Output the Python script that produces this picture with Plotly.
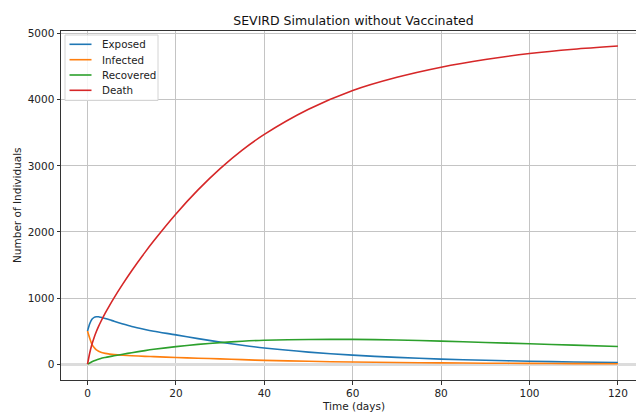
import plotly.graph_objects as go

# time points (days)
t = [0, 0.5, 1, 1.5, 2, 2.5, 3, 4, 5, 6, 8, 10, 13, 15, 20, 25, 30, 35, 40,
     50, 60, 70, 80, 90, 100, 110, 120]

exposed = [500, 610, 680, 708, 716, 716, 708, 691, 671, 649, 607, 569, 524, 498,
           443, 386, 333, 285, 244, 182, 136, 102, 76, 58, 44, 33, 24]
infected = [500, 390, 300, 250, 215, 195, 180, 163, 152, 144, 134, 127, 118, 113,
            101, 90, 79, 68, 57, 43, 32, 25, 19, 14, 11, 8, 6]
recovered = [0, 18, 35, 50, 63, 75, 86, 101, 114, 126, 150, 173, 205, 224,
             265, 299, 326, 347, 361, 373, 375, 366, 348, 328, 308, 287, 267]
death = [0, 169, 300, 404, 493, 571, 641, 771, 890, 1003, 1214, 1413, 1691, 1866,
         2272, 2636, 2958, 3238, 3475, 3855, 4140, 4340, 4493, 4609, 4699, 4764, 4812]

series_names = ["Exposed", "Infected", "Recovered", "Death"]
series_values = [exposed, infected, recovered, death]
colors = ["#1f77b4", "#ff7f0e", "#2ca02c", "#d62728"]

x_ticks = [0, 20, 40, 60, 80, 100, 120]
y_ticks = [0, 1000, 2000, 3000, 4000, 5000]

FONT = "DejaVu Sans"
TXT = "#222222"

# page body has an 8px default margin; figure occupies 636x404 from (8,8)
W, H = 636, 404
L, R, T, B = 53, 0, 23, 32
PW = W - L - R          # plot width in px
PH = H - T - B          # plot height in px


def px(xabs):   # absolute page x -> paper x
    return (xabs - 8 - L) / PW


def py(yabs):   # absolute page y -> paper y
    return (H - B - (yabs - 8)) / PH


fig = go.Figure()
for name, vals, c in zip(series_names, series_values, colors):
    fig.add_trace(go.Scatter(x=t, y=vals, mode="lines", name=name, showlegend=False,
                             line=dict(color=c, width=1.6, shape="spline", smoothing=0.8)))

# legend drawn as box + line samples + labels
shapes = [dict(type="rect", xref="paper", yref="paper",
               x0=px(65), x1=px(158), y0=py(100.5), y1=py(35),
               line=dict(color="#d4d4d4", width=1), fillcolor="rgba(255,255,255,0.85)",
               layer="above")]
annotations = []
entry_y = [44.3, 59.7, 75.0, 90.3]
for name, c, yy in zip(series_names, colors, entry_y):
    shapes.append(dict(type="line", xref="paper", yref="paper",
                       x0=px(69.5), x1=px(91.5), y0=py(yy), y1=py(yy),
                       line=dict(color=c, width=1.6), layer="above"))
    annotations.append(dict(text=name, xref="paper", yref="paper", x=px(99.5), y=py(yy),
                            xanchor="left", yanchor="middle", showarrow=False,
                            font=dict(family=FONT, size=10.3, color=TXT)))

annotations += [
    dict(text="Time (days)", xref="paper", yref="paper",
         x=px(353.5), y=py(406), xanchor="center", yanchor="middle",
         showarrow=False, font=dict(family=FONT, size=10.5, color=TXT)),
    dict(text="Number of Individuals", xref="paper", yref="paper",
         x=px(16.5), y=0.5, xanchor="center", yanchor="middle", textangle=-90,
         showarrow=False, font=dict(family=FONT, size=10.5, color=TXT)),
]

fig.update_layout(
    width=W, height=H,
    margin=dict(l=L, r=R, t=T, b=B, pad=0),
    plot_bgcolor="white", paper_bgcolor="white",
    font=dict(family=FONT, size=10, color=TXT),
    showlegend=False,
    title=dict(text="SEVIRD Simulation without Vaccinated", x=(353.5 - 8) / W, xanchor="center",
               y=1 - (20.5 - 8) / H, yanchor="middle", yref="container",
               font=dict(family=FONT, size=12.5, color="#111111")),
    xaxis=dict(range=[-6, 125.9], tickvals=x_ticks, ticks="outside", ticklen=3.5,
               tickcolor="#333333", showline=True, linecolor="#333333", linewidth=1,
               mirror=True, showgrid=True, gridcolor="#c4c4c4", gridwidth=1,
               zeroline=False, tickfont=dict(size=10.5)),
    yaxis=dict(range=[-240, 5040], tickvals=y_ticks, ticks="outside", ticklen=3.5,
               tickcolor="#333333", showline=True, linecolor="#333333", linewidth=1,
               showgrid=True, gridcolor="#c4c4c4", gridwidth=1,
               zeroline=True, zerolinecolor="#dcdcdc", zerolinewidth=3,
               tickfont=dict(size=10.5)),
    shapes=shapes,
    annotations=annotations,
)

fig.write_html("out.html")
